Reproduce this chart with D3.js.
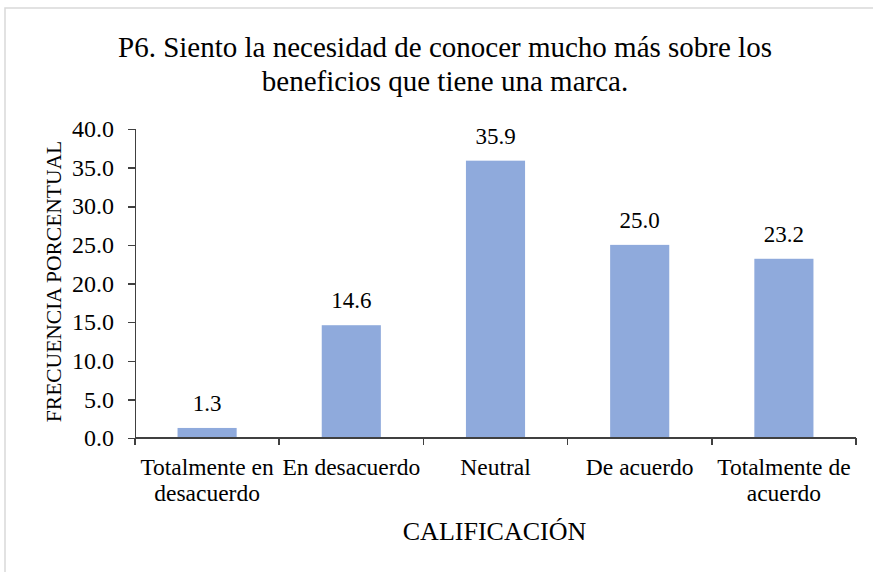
<!DOCTYPE html>
<html>
<head>
<meta charset="utf-8">
<title>P6 bar chart</title>
<style>
  body { margin: 0; background: #ffffff; }
  svg text { font-family: 'Liberation Serif', 'Times New Roman', serif; fill: #000000; }
  .axis path, .axis line { stroke: #404040; stroke-width: 1.5px; shape-rendering: crispEdges; }
</style>
</head>
<body>
<script src="https://cdn.jsdelivr.net/npm/d3@7"></script>
<script>
'use strict';
const categories = ['Totalmente en desacuerdo', 'En desacuerdo', 'Neutral', 'De acuerdo', 'Totalmente de acuerdo'];
const catLines = [['Totalmente en', 'desacuerdo'], ['En desacuerdo'], ['Neutral'], ['De acuerdo'], ['Totalmente de', 'acuerdo']];
const values = [1.3, 14.6, 35.9, 25.0, 23.2];
const yTicks = [0, 5, 10, 15, 20, 25, 30, 35, 40];
const titleLines = ['P6. Siento la necesidad de conocer mucho más sobre los', 'beneficios que tiene una marca.'];

const W = 873, H = 572;
const margin = {top: 129, right: 17, bottom: 134, left: 135};
const width = W - margin.left - margin.right;
const height = H - margin.top - margin.bottom;

const svg = d3.select('body').append('svg')
  .attr('width', W)
  .attr('height', H);

// chart frame
svg.append('rect')
  .attr('x', 5).attr('y', 8)
  .attr('width', W + 10).attr('height', H + 10)
  .attr('fill', 'none')
  .attr('stroke', '#d9d9d9')
  .attr('stroke-width', 1.5);

// title
svg.append('text')
  .attr('text-anchor', 'middle')
  .style('font-size', '29px')
  .selectAll('tspan')
  .data(titleLines)
  .enter().append('tspan')
    .attr('x', 445)
    .attr('y', function(d, i) { return 57 + i * 34; })
    .text(function(d) { return d; });

const g = svg.append('g')
  .attr('transform', 'translate(' + margin.left + ',' + margin.top + ')');

const x = d3.scaleBand()
  .domain(categories)
  .range([0, width])
  .paddingInner(0.59)
  .paddingOuter(0.295);

const y = d3.scaleLinear()
  .domain([0, 40])
  .range([height, 0]);

// y axis
const yAxis = g.append('g')
  .attr('class', 'axis')
  .call(d3.axisLeft(y).tickValues(yTicks).tickSize(7).tickPadding(14).tickFormat(d3.format('.1f')));
yAxis.selectAll('text').style('font-size', '24px').style('font-family', "'Liberation Serif', serif").attr('fill', '#000');
yAxis.select('.domain').attr('d', 'M-7,0.5H0.5V' + height);

// bars
g.selectAll('.bar')
  .data(values)
  .enter().append('rect')
    .attr('class', 'bar')
    .attr('x', function(d, i) { return x(categories[i]); })
    .attr('width', x.bandwidth())
    .attr('y', function(d) { return y(d); })
    .attr('height', function(d) { return height - y(d); })
    .attr('fill', '#8faadc');

// value labels
g.selectAll('.lbl')
  .data(values)
  .enter().append('text')
    .attr('class', 'lbl')
    .attr('text-anchor', 'middle')
    .style('font-size', '23px')
    .attr('x', function(d, i) { return x(categories[i]) + x.bandwidth() / 2; })
    .attr('y', function(d) { return y(d) - 17; })
    .text(function(d) { return d3.format('.1f')(d); });

// x axis line and ticks at category boundaries
const xAxis = g.append('g')
  .attr('class', 'axis')
  .attr('transform', 'translate(0,' + height + ')');
xAxis.append('line')
  .attr('x1', 0).attr('x2', width)
  .attr('y1', 0).attr('y2', 0);
xAxis.selectAll('.tk')
  .data(d3.range(categories.length + 1))
  .enter().append('line')
    .attr('class', 'tk')
    .attr('x1', function(i) { return i * x.step(); })
    .attr('x2', function(i) { return i * x.step(); })
    .attr('y1', 0).attr('y2', 7);

// category labels
const catText = g.selectAll('.cat')
  .data(categories)
  .enter().append('text')
    .attr('class', 'cat')
    .attr('text-anchor', 'middle')
    .style('font-size', '23.5px');
catText.selectAll('tspan')
  .data(function(d, i) { return catLines[i].map(function(s) { return {s: s, c: d}; }); })
  .enter().append('tspan')
    .attr('x', function(d) { return x(d.c) + x.bandwidth() / 2; })
    .attr('y', function(d, j) { return height + 37 + j * 26; })
    .text(function(d) { return d.s; });

// axis titles
svg.append('text')
  .attr('text-anchor', 'middle')
  .style('font-size', '21.5px')
  .attr('transform', 'translate(61,' + (margin.top + height / 2 - 2) + ') rotate(-90)')
  .text('FRECUENCIA PORCENTUAL');

svg.append('text')
  .attr('text-anchor', 'middle')
  .style('font-size', '26px')
  .attr('x', margin.left + width / 2 - 1)
  .attr('y', 540)
  .text('CALIFICACIÓN');
</script>
</body>
</html>
